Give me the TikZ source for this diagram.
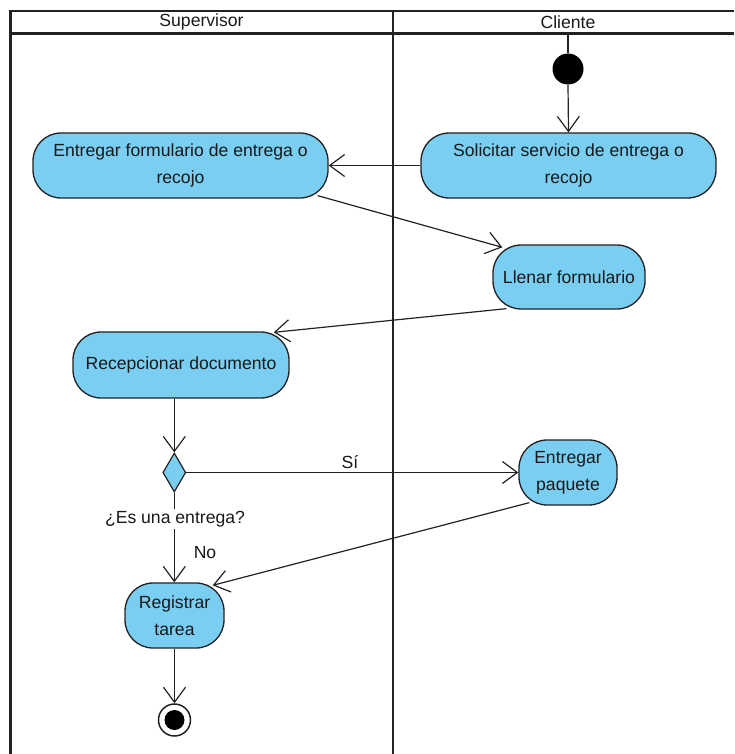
\documentclass[tikz,border=0pt]{standalone}
\usepackage{fontspec}
\setmainfont{Liberation Sans}
\usetikzlibrary{arrows.meta,shapes.geometric}
\definecolor{actfill}{RGB}{122,206,242}
\definecolor{ink}{RGB}{34,34,34}

\begin{document}
\begin{tikzpicture}[x=1pt,y=-1pt,
  font=\fontsize{17.6}{27}\selectfont,
  lane/.style={draw=ink,line width=2.6pt},
  act/.style={draw=ink,line width=1.3pt,fill=actfill,rounded corners=28pt,
    align=center,inner sep=0pt,text=black!90},
  flow/.style={draw=ink,line width=1.2pt,
    -{Straight Barb[length=15pt,width=22pt,line width=1.2pt]}},
  plain/.style={draw=ink,line width=1.2pt},
  lbl/.style={inner sep=2pt,text=black!90}]

\useasboundingbox (0,0) rectangle (734,754);

% swimlane frame
\draw[lane] (10.5,754) -- (10.5,11) -- (734,11);
\draw[lane] (10.5,33.5) -- (734,33.5);
\draw[lane] (393,11) -- (393,754);
\node[lbl] (hsup) at (201.5,22) {Supervisor};
\node[lbl] (hcli) at (568,22) {Cliente};

% actions
\node[act,minimum width=295pt,minimum height=65pt] (sol) at (568.5,165.5)
  {Solicitar servicio de entrega o\\recojo};
\node[act,minimum width=295pt,minimum height=65pt] (form) at (180.5,165.5)
  {Entregar formulario de entrega o\\recojo};
\node[act,minimum width=152pt,minimum height=64pt] (fill) at (569,277)
  {Llenar formulario};
\node[act,minimum width=216pt,minimum height=66pt] (recep) at (181,365)
  {Recepcionar documento};
\node[act,minimum width=98pt,minimum height=65pt] (paq) at (568,472.5)
  {Entregar\\paquete};
\node[act,minimum width=99pt,minimum height=65pt] (reg) at (174.5,615.5)
  {Registrar\\tarea};

% control nodes
\node[circle,fill=black,minimum size=31pt,inner sep=0pt] (start) at (568,69) {};
\coordinate (lanetop) at (568,33.5);
\node[diamond,draw=ink,line width=1.2pt,fill=actfill,minimum width=23pt,
  minimum height=39pt,inner sep=0pt] (dec) at (174.3,472.5) {};
\node[circle,draw=ink,line width=1.5pt,fill=white,minimum size=32pt,inner sep=0pt]
  (end) at (174.5,720) {};
\node[circle,fill=black,minimum size=20pt,inner sep=0pt] (endin) at (end.center) {};

% guard / decision labels
\node[lbl] (q) at (175,519) {¿Es una entrega?};
\node[lbl] (si) at (350,462) {Sí};
\node[lbl] (no) at (205,553) {No};

% flows
\draw[plain] (lanetop) -- (start);
\draw[flow] (start.south) -- (sol.north);
\draw[flow] (sol.west) -- (form.east);
\draw[flow] ([xshift=-11pt,yshift=3pt]form.south east) --
  ([xshift=10pt,yshift=-3pt]fill.north west);
\draw[flow] ([xshift=14pt,yshift=1pt]fill.south west) --
  ([xshift=-16pt,yshift=-1pt]recep.north east);
\draw[flow] (recep.south -| dec.north) -- (dec.north);
\draw[flow] (dec.east) -- (paq.west);
\draw[plain] (dec.south) -- (q.north -| dec.south);
\draw[flow] (q.south -| dec.south) -- (reg.north -| dec.south);
\draw[flow] ([xshift=11pt,yshift=3pt]paq.south west) --
  ([xshift=-12pt,yshift=-3pt]reg.north east);
\draw[flow] (reg.south) -- (end.north);
\end{tikzpicture}
\end{document}
